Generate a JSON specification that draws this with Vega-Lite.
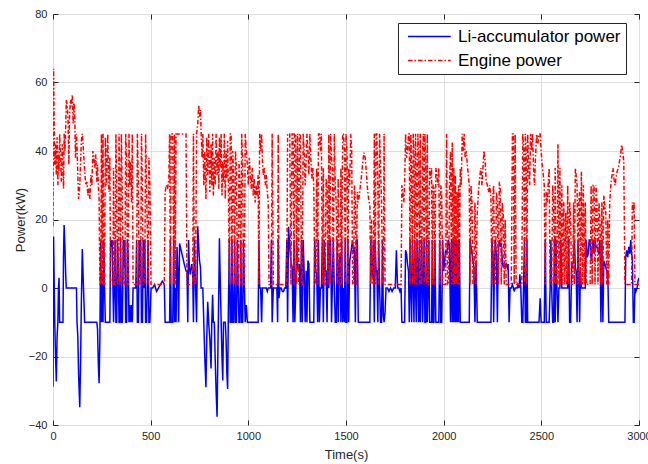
{
"$schema":"https://vega.github.io/schema/vega-lite/v6.json",
"width":586,"height":411,
"autosize":{"type":"none"},
"padding":{"left":53,"top":14,"right":9,"bottom":39},
"background":"white",
"config":{"font":"Liberation Sans","view":{"stroke":"#262626","strokeWidth":1},
"axis":{"labelFont":"Liberation Sans","titleFont":"Liberation Sans","labelFontSize":11,"titleFontSize":13,"labelColor":"#262626","titleColor":"#262626","titleFontWeight":"normal","domain":false,"tickColor":"#262626","gridColor":"#dedede","gridWidth":1,"labelFlush":false}},
"data":{"values":[
{"t":0,"b":-28.8,"e":18},{"t":3,"b":15,"e":64},{"t":6,"b":2,"e":48},{"t":9,"b":-10,"e":36},{"t":13,"b":-20,"e":42},{"t":17,"b":-27.3,"e":33},{"t":21,"b":-14,"e":44},{"t":25,"b":-10,"e":30},{"t":28,"b":0,"e":39},{"t":31,"b":3,"e":34},{"t":34,"b":-10,"e":45},{"t":39,"b":-10,"e":37},{"t":43,"b":-10,"e":31},{"t":47,"b":-10,"e":42},{"t":51,"b":-10,"e":35},{"t":54,"b":10,"e":29},{"t":57,"b":18.4,"e":45},{"t":61,"b":12,"e":40},{"t":65,"b":4,"e":47},{"t":68,"b":0,"e":55},{"t":73,"b":0,"e":53},{"t":77,"b":0,"e":49},{"t":81,"b":0,"e":36},{"t":85,"b":0,"e":51},{"t":90,"b":0,"e":55},{"t":94,"b":0,"e":53},{"t":99,"b":0,"e":56.5},{"t":103,"b":0,"e":48},{"t":107,"b":0,"e":54},{"t":111,"b":0,"e":52},{"t":115,"b":0,"e":38},{"t":120,"b":0,"e":45},{"t":123,"b":-10,"e":41},{"t":127,"b":-14,"e":33},{"t":131,"b":-25,"e":26},{"t":137,"b":-34.8,"e":30},{"t":141,"b":-22,"e":36},{"t":145,"b":-5,"e":43},{"t":150,"b":11.4,"e":45},{"t":156,"b":0,"e":40},{"t":162,"b":-10,"e":34},{"t":168,"b":-10,"e":30},{"t":174,"b":-10,"e":31},{"t":179,"b":-10,"e":27},{"t":184,"b":-10,"e":29},{"t":189,"b":-10,"e":26},{"t":194,"b":-10,"e":33},{"t":199,"b":-10,"e":30},{"t":204,"b":-10,"e":40},{"t":209,"b":-10,"e":38},{"t":214,"b":-10,"e":35},{"t":219,"b":-10,"e":39},{"t":224,"b":-10,"e":31},{"t":228,"b":-12,"e":36},{"t":232,"b":-22,"e":30},{"t":236,"b":-27.8,"e":26},{"t":240,"b":-15,"e":1},
{"t":244,"b":14,"e":1},{"t":248,"b":-10,"e":45},{"t":252,"b":4.5,"e":1},{"t":256,"b":-10,"e":45},{"t":260,"b":14,"e":1},{"t":264,"b":0,"e":1},{"t":268,"b":-10,"e":44},{"t":274,"b":-10,"e":30},{"t":280,"b":-10,"e":45},{"t":286,"b":-10,"e":28},{"t":291,"b":-10,"e":38},{"t":295,"b":14,"e":1},{"t":299,"b":12,"e":1},{"t":303,"b":14,"e":1},{"t":307,"b":0,"e":1},{"t":310,"b":-10,"e":35},{"t":314,"b":0,"e":1},{"t":318,"b":14,"e":1},{"t":322,"b":-10,"e":45},{"t":326,"b":-10,"e":30},{"t":330,"b":14,"e":1},{"t":334,"b":8,"e":1},{"t":338,"b":-10,"e":45},{"t":342,"b":-10,"e":33},{"t":346,"b":14,"e":1},{"t":350,"b":-10,"e":45},{"t":355,"b":-10,"e":26},{"t":360,"b":14,"e":1},{"t":364,"b":6,"e":1},{"t":368,"b":14,"e":1},{"t":372,"b":-10,"e":45},{"t":377,"b":-10,"e":38},{"t":381,"b":14,"e":1},{"t":385,"b":10,"e":1},{"t":389,"b":-10,"e":45},{"t":393,"b":-5,"e":30},{"t":397,"b":-10,"e":37},{"t":402,"b":-5,"e":25},{"t":406,"b":-10,"e":45},{"t":410,"b":0,"e":1},{"t":415,"b":0,"e":1},{"t":420,"b":0,"e":1},{"t":424,"b":0,"e":1},{"t":428,"b":14,"e":1},{"t":432,"b":-10,"e":45},{"t":437,"b":-10,"e":31},{"t":441,"b":14,"e":1},{"t":445,"b":3,"e":1},{"t":449,"b":14,"e":1},{"t":453,"b":-10,"e":45},{"t":458,"b":-10,"e":28},{"t":462,"b":14,"e":1},{"t":466,"b":0,"e":1},{"t":470,"b":14,"e":1},{"t":474,"b":-10,"e":45},{"t":479,"b":-10,"e":30},{"t":487,"b":14,"e":1},
{"t":491,"b":-10,"e":38},{"t":496,"b":-10,"e":30},{"t":502,"b":0,"e":1},{"t":510,"b":0,"e":1},{"t":520,"b":1,"e":1},{"t":530,"b":-1,"e":1},{"t":540,"b":0,"e":1},{"t":550,"b":1,"e":1},{"t":560,"b":2,"e":1},{"t":570,"b":1,"e":1},{"t":574,"b":-10,"e":28},{"t":580,"b":-10,"e":30},{"t":587,"b":-10,"e":29},{"t":593,"b":-10,"e":32},{"t":597,"b":-10,"e":45},{"t":601,"b":14,"e":1},{"t":605,"b":-10,"e":45},{"t":613,"b":-10,"e":45},{"t":618,"b":14,"e":1},{"t":622,"b":-10,"e":45},{"t":626,"b":0,"e":1},{"t":630,"b":-10,"e":45},{"t":635,"b":12,"e":45},{"t":639,"b":5,"e":45},{"t":643,"b":-10,"e":45},{"t":648,"b":13,"e":45},{"t":656,"b":11,"e":45},{"t":664,"b":9,"e":45},{"t":672,"b":7,"e":45},{"t":681,"b":5,"e":45},{"t":686,"b":5,"e":1},{"t":690,"b":-10,"e":1},{"t":694,"b":14,"e":1},{"t":698,"b":6,"e":1},{"t":703,"b":4,"e":1},{"t":710,"b":7,"e":1},{"t":715,"b":5,"e":1},{"t":719,"b":-10,"e":45},{"t":724,"b":14,"e":1},{"t":730,"b":0,"e":1},{"t":735,"b":-10,"e":45},{"t":741,"b":18,"e":48},{"t":746,"b":12,"e":53.4},{"t":750,"b":8,"e":50},{"t":755,"b":6,"e":52},{"t":758,"b":0,"e":46},{"t":763,"b":0,"e":38},{"t":767,"b":0,"e":45},{"t":772,"b":-10,"e":30},{"t":777,"b":-20,"e":40},{"t":783,"b":-29,"e":26},{"t":787,"b":-15,"e":44},{"t":792,"b":-4,"e":33},{"t":797,"b":-10,"e":45},{"t":803,"b":-15,"e":28},{"t":809,"b":-23.5,"e":42},{"t":813,"b":-10,"e":30},{"t":817,"b":-2,"e":45},{"t":821,"b":-10,"e":27},{"t":826,"b":-10,"e":38},{"t":830,"b":-20,"e":30},{"t":835,"b":-30,"e":45},{"t":840,"b":-37.6,"e":33},{"t":845,"b":-15,"e":40},{"t":849,"b":0,"e":29},{"t":852,"b":14.5,"e":44},{"t":857,"b":0,"e":35},{"t":861,"b":-10,"e":45},{"t":865,"b":-20,"e":27},{"t":869,"b":-27,"e":37},{"t":873,"b":-10,"e":31},{"t":877,"b":-10,"e":45},{"t":882,"b":-10,"e":26},{"t":886,"b":-15,"e":40},{"t":890,"b":-25,"e":32},{"t":894,"b":-29.5,"e":43},{"t":898,"b":-5,"e":28},
{"t":903,"b":14,"e":1},{"t":907,"b":-10,"e":45},{"t":912,"b":-10,"e":45},{"t":916,"b":14,"e":1},{"t":920,"b":-10,"e":40},{"t":925,"b":-10,"e":33},{"t":930,"b":14,"e":1},{"t":934,"b":-10,"e":40},{"t":939,"b":-10,"e":35},{"t":944,"b":14,"e":1},{"t":948,"b":0,"e":1},{"t":952,"b":-10,"e":37},{"t":957,"b":-10,"e":30},{"t":961,"b":14,"e":1},{"t":966,"b":-10,"e":45},{"t":971,"b":-10,"e":36},{"t":975,"b":14,"e":1},{"t":980,"b":0,"e":1},{"t":984,"b":-10,"e":45},{"t":990,"b":-5,"e":40},{"t":995,"b":-10,"e":36},{"t":1000,"b":-10,"e":30},{"t":1005,"b":-10,"e":38},{"t":1010,"b":-10,"e":33},{"t":1015,"b":-10,"e":29},{"t":1020,"b":-10,"e":35},{"t":1025,"b":-10,"e":27},{"t":1030,"b":-10,"e":32},{"t":1035,"b":-10,"e":25},{"t":1040,"b":-10,"e":30},{"t":1045,"b":-10,"e":27},{"t":1050,"b":-10,"e":33},{"t":1054,"b":14,"e":1},{"t":1058,"b":0,"e":45},{"t":1063,"b":0,"e":40},{"t":1068,"b":-10,"e":45},{"t":1072,"b":0,"e":37},{"t":1077,"b":0,"e":33},{"t":1082,"b":0,"e":35},{"t":1087,"b":0,"e":30},{"t":1092,"b":0,"e":33},{"t":1097,"b":-1,"e":28},{"t":1102,"b":0,"e":25},{"t":1106,"b":0,"e":1},{"t":1114,"b":0,"e":1},{"t":1118,"b":14,"e":1},{"t":1122,"b":-10,"e":45},{"t":1128,"b":0,"e":1},{"t":1134,"b":0,"e":1},{"t":1140,"b":0,"e":1},{"t":1146,"b":0,"e":1},{"t":1150,"b":-10,"e":1},{"t":1153,"b":14,"e":45},{"t":1157,"b":-3,"e":1},{"t":1162,"b":0,"e":1},{"t":1168,"b":0,"e":1},{"t":1174,"b":-1,"e":1},{"t":1180,"b":-1,"e":1},{"t":1186,"b":0,"e":1},{"t":1192,"b":0,"e":1},{"t":1197,"b":14,"e":1},
{"t":1201,"b":-10,"e":45},{"t":1206,"b":17.9,"e":45},{"t":1212,"b":12,"e":45},{"t":1218,"b":8,"e":1},{"t":1224,"b":6,"e":45},{"t":1229,"b":-10,"e":45},{"t":1234,"b":14,"e":1},{"t":1238,"b":-10,"e":45},{"t":1243,"b":0,"e":45},{"t":1247,"b":14,"e":1},{"t":1252,"b":6,"e":45},{"t":1257,"b":5,"e":1},{"t":1262,"b":7,"e":45},{"t":1267,"b":-10,"e":45},{"t":1272,"b":14,"e":1},{"t":1276,"b":-10,"e":1},{"t":1281,"b":14,"e":45},{"t":1286,"b":4,"e":40},{"t":1291,"b":-10,"e":30},{"t":1296,"b":5,"e":37},{"t":1300,"b":-10,"e":45},{"t":1305,"b":8,"e":40},{"t":1310,"b":7,"e":33},{"t":1315,"b":-10,"e":45},{"t":1320,"b":-10,"e":38},{"t":1325,"b":-10,"e":32},{"t":1330,"b":-10,"e":35},{"t":1335,"b":-10,"e":30},{"t":1340,"b":14,"e":1},{"t":1345,"b":5,"e":1},{"t":1350,"b":4,"e":35},{"t":1355,"b":-10,"e":1},{"t":1359,"b":14,"e":45},{"t":1364,"b":-10,"e":45},{"t":1369,"b":0,"e":40},{"t":1374,"b":0,"e":45},{"t":1379,"b":14,"e":1},{"t":1384,"b":-10,"e":35},{"t":1389,"b":14,"e":1},{"t":1394,"b":5,"e":1},{"t":1398,"b":5,"e":32},{"t":1403,"b":-10,"e":30},{"t":1408,"b":14,"e":1},{"t":1412,"b":0,"e":45},{"t":1417,"b":14,"e":1},{"t":1421,"b":14,"e":45},{"t":1426,"b":-10,"e":38},{"t":1430,"b":0,"e":35},{"t":1435,"b":14,"e":1},{"t":1440,"b":0,"e":45},{"t":1445,"b":-10,"e":30},{"t":1450,"b":-10,"e":25},{"t":1455,"b":14,"e":1},{"t":1460,"b":-10,"e":32},{"t":1465,"b":8,"e":1},{"t":1470,"b":10,"e":1},{"t":1474,"b":-10,"e":35},{"t":1478,"b":14,"e":1},{"t":1483,"b":-10,"e":45},{"t":1487,"b":0,"e":45},{"t":1492,"b":-10,"e":40},{"t":1496,"b":14,"e":1},{"t":1500,"b":-10,"e":45},{"t":1505,"b":-10,"e":40},{"t":1510,"b":14,"e":1},{"t":1514,"b":-10,"e":35},{"t":1519,"b":8,"e":30},{"t":1524,"b":10,"e":45},{"t":1529,"b":12,"e":40},{"t":1534,"b":14,"e":1},{"t":1539,"b":10,"e":1},{"t":1543,"b":12,"e":30},{"t":1548,"b":-10,"e":25},{"t":1553,"b":14,"e":1},{"t":1558,"b":14,"e":28},{"t":1563,"b":-10,"e":25},{"t":1568,"b":-10,"e":27},{"t":1574,"b":-10,"e":30},{"t":1580,"b":-10,"e":33},{"t":1586,"b":-10,"e":37},{"t":1592,"b":-10,"e":39.5},{"t":1598,"b":-10,"e":38},{"t":1604,"b":-10,"e":34},{"t":1610,"b":-10,"e":29},{"t":1616,"b":-10,"e":26},{"t":1622,"b":-10,"e":24},{"t":1627,"b":14,"e":1},{"t":1631,"b":5,"e":20},{"t":1636,"b":3,"e":1},{"t":1640,"b":14,"e":1},{"t":1645,"b":-10,"e":45},{"t":1649,"b":14,"e":1},{"t":1654,"b":5,"e":45},{"t":1658,"b":5,"e":45},{"t":1663,"b":-10,"e":30},{"t":1667,"b":14,"e":1},{"t":1672,"b":0,"e":45},{"t":1677,"b":-10,"e":35},{"t":1682,"b":-10,"e":25},{"t":1687,"b":14,"e":1},{"t":1691,"b":-8,"e":1},{"t":1695,"b":-10,"e":45},{"t":1700,"b":-7,"e":1},{"t":1705,"b":0,"e":1},{"t":1712,"b":0,"e":1},{"t":1720,"b":-1,"e":1},{"t":1728,"b":0,"e":1},{"t":1736,"b":-1,"e":1},{"t":1744,"b":0,"e":1},{"t":1752,"b":0,"e":1},{"t":1758,"b":11,"e":1},{"t":1764,"b":0,"e":1},{"t":1770,"b":0,"e":1},{"t":1776,"b":-1,"e":1},{"t":1782,"b":0,"e":1},{"t":1786,"b":-10,"e":30},{"t":1791,"b":-10,"e":28},{"t":1796,"b":-10,"e":25},{"t":1800,"b":-10,"e":30},{"t":1805,"b":11,"e":45},{"t":1810,"b":10,"e":38},{"t":1815,"b":7,"e":40},{"t":1820,"b":5,"e":45},{"t":1824,"b":-10,"e":45},{"t":1828,"b":14,"e":1},{"t":1832,"b":0,"e":45},{"t":1836,"b":-10,"e":35},{"t":1840,"b":14,"e":1},{"t":1844,"b":3,"e":45},{"t":1848,"b":-10,"e":40},{"t":1852,"b":14,"e":1},{"t":1856,"b":0,"e":45},{"t":1860,"b":-10,"e":33},{"t":1864,"b":14,"e":1},{"t":1868,"b":5,"e":45},{"t":1872,"b":-10,"e":38},{"t":1876,"b":14,"e":1},{"t":1880,"b":-10,"e":45},{"t":1884,"b":2,"e":1},{"t":1888,"b":14,"e":1},{"t":1892,"b":-10,"e":40},{"t":1896,"b":0,"e":45},{"t":1900,"b":14,"e":1},{"t":1904,"b":-10,"e":45},{"t":1908,"b":-10,"e":35},{"t":1912,"b":14,"e":1},{"t":1916,"b":-10,"e":45},{"t":1920,"b":0,"e":1},{"t":1924,"b":14,"e":1},{"t":1928,"b":-10,"e":35},{"t":1933,"b":-10,"e":32},{"t":1938,"b":-10,"e":35},{"t":1942,"b":14,"e":1},{"t":1946,"b":-10,"e":30},
{"t":1950,"b":-10,"e":30},{"t":1955,"b":14,"e":1},{"t":1960,"b":-10,"e":35},{"t":1965,"b":-10,"e":33},{"t":1970,"b":-10,"e":30},{"t":1975,"b":-10,"e":35},{"t":1980,"b":14,"e":1},{"t":1985,"b":-10,"e":30},{"t":1990,"b":-10,"e":28},{"t":1995,"b":14,"e":1},{"t":2000,"b":5,"e":1},{"t":2005,"b":8,"e":1},{"t":2010,"b":11,"e":1},{"t":2015,"b":10,"e":45},{"t":2020,"b":12,"e":1},{"t":2025,"b":14,"e":1},{"t":2030,"b":12,"e":30},{"t":2035,"b":-10,"e":40},{"t":2040,"b":14,"e":1},{"t":2044,"b":-10,"e":42.5},{"t":2048,"b":14,"e":1},{"t":2052,"b":-10,"e":35},{"t":2056,"b":14,"e":1},{"t":2060,"b":-10,"e":33},{"t":2064,"b":14,"e":1},{"t":2068,"b":-10,"e":28},{"t":2072,"b":14,"e":1},{"t":2076,"b":-10,"e":30},{"t":2080,"b":14,"e":1},{"t":2085,"b":-10,"e":35},{"t":2090,"b":-10,"e":30},{"t":2095,"b":-10,"e":45},{"t":2100,"b":-10,"e":40},{"t":2105,"b":-10,"e":45},{"t":2110,"b":-10,"e":38},{"t":2116,"b":-10,"e":40},{"t":2121,"b":-10,"e":36},{"t":2126,"b":-10,"e":33},{"t":2131,"b":-10,"e":30},{"t":2135,"b":14,"e":1},{"t":2140,"b":12,"e":30},{"t":2145,"b":10,"e":25},{"t":2150,"b":8,"e":1},{"t":2155,"b":6,"e":1},{"t":2160,"b":-10,"e":25},{"t":2166,"b":8,"e":1},{"t":2172,"b":-10,"e":22},{"t":2178,"b":-10,"e":28},{"t":2184,"b":-10,"e":32},{"t":2190,"b":-10,"e":35},{"t":2196,"b":-10,"e":30},{"t":2201,"b":-10,"e":35},{"t":2206,"b":-10,"e":40},{"t":2212,"b":-10,"e":37},{"t":2218,"b":-10,"e":31},{"t":2224,"b":-10,"e":30},{"t":2230,"b":-10,"e":28},{"t":2236,"b":-10,"e":30},{"t":2242,"b":-10,"e":26},{"t":2247,"b":14,"e":1},{"t":2252,"b":10,"e":27},{"t":2256,"b":-10,"e":30},{"t":2261,"b":10,"e":1},{"t":2265,"b":14,"e":1},{"t":2270,"b":9,"e":28},{"t":2275,"b":-10,"e":25},{"t":2280,"b":12,"e":1},{"t":2285,"b":14,"e":31},{"t":2290,"b":12,"e":29},{"t":2295,"b":13,"e":1},{"t":2300,"b":8,"e":25},{"t":2305,"b":6,"e":22},{"t":2310,"b":7,"e":1},{"t":2315,"b":6,"e":20},{"t":2320,"b":7,"e":1},{"t":2325,"b":6,"e":1},{"t":2330,"b":7,"e":1},{"t":2335,"b":-10,"e":1},{"t":2340,"b":0,"e":1},{"t":2346,"b":0,"e":1},{"t":2352,"b":1,"e":45},{"t":2357,"b":0,"e":45},{"t":2361,"b":-1,"e":1},{"t":2366,"b":0,"e":45},{"t":2371,"b":0,"e":1},{"t":2376,"b":0,"e":1},{"t":2380,"b":1,"e":1},{"t":2386,"b":0,"e":1},{"t":2390,"b":4,"e":1},{"t":2395,"b":0,"e":1},{"t":2400,"b":-10,"e":1},{"t":2405,"b":-10,"e":45},{"t":2410,"b":3,"e":40},{"t":2414,"b":14,"e":1},{"t":2418,"b":-10,"e":45},{"t":2422,"b":-10,"e":40},{"t":2426,"b":14,"e":1},{"t":2430,"b":-10,"e":45},{"t":2435,"b":-10,"e":35},{"t":2440,"b":-10,"e":30},{"t":2445,"b":-10,"e":45},{"t":2450,"b":-10,"e":40},{"t":2455,"b":-10,"e":45},{"t":2460,"b":-10,"e":35},{"t":2465,"b":-10,"e":30},{"t":2470,"b":-10,"e":38},{"t":2476,"b":-10,"e":45},{"t":2482,"b":-10,"e":42},{"t":2488,"b":-10,"e":45},{"t":2494,"b":-3,"e":45},{"t":2499,"b":-10,"e":40},{"t":2504,"b":-10,"e":36},{"t":2510,"b":-10,"e":33},{"t":2515,"b":-10,"e":30},{"t":2520,"b":14,"e":1},{"t":2525,"b":-10,"e":28},{"t":2530,"b":-10,"e":25},{"t":2535,"b":-10,"e":30},{"t":2540,"b":-10,"e":35},{"t":2545,"b":0,"e":1},{"t":2549,"b":14,"e":1},{"t":2553,"b":0,"e":1},{"t":2558,"b":-10,"e":30},{"t":2563,"b":-10,"e":25},{"t":2567,"b":14,"e":1},{"t":2571,"b":-10,"e":35},{"t":2575,"b":14,"e":1},{"t":2580,"b":0,"e":1},{"t":2585,"b":-10,"e":42},{"t":2590,"b":0,"e":1},{"t":2595,"b":0,"e":35},{"t":2600,"b":14,"e":1},{"t":2605,"b":0,"e":30},{"t":2610,"b":0,"e":1},{"t":2615,"b":0,"e":25},{"t":2620,"b":0,"e":1},{"t":2625,"b":0,"e":22},{"t":2630,"b":0,"e":1},{"t":2635,"b":0,"e":30},{"t":2640,"b":14,"e":1},{"t":2645,"b":-10,"e":25},{"t":2650,"b":-10,"e":20},{"t":2655,"b":6,"e":1},{"t":2660,"b":7,"e":1},{"t":2665,"b":8,"e":25},{"t":2669,"b":14,"e":1},{"t":2674,"b":6,"e":35},{"t":2678,"b":5,"e":33},{"t":2683,"b":-10,"e":30},{"t":2688,"b":14,"e":1},{"t":2692,"b":5,"e":25},{"t":2696,"b":-10,"e":28},{"t":2700,"b":5,"e":1},{"t":2705,"b":0,"e":34},{"t":2710,"b":0,"e":1},{"t":2715,"b":0,"e":30},{"t":2720,"b":0,"e":1},{"t":2725,"b":0,"e":25},{"t":2730,"b":14,"e":1},{"t":2735,"b":9,"e":1},{"t":2740,"b":10,"e":1},{"t":2745,"b":14,"e":1},
{"t":2750,"b":14,"e":1},{"t":2755,"b":8,"e":30},{"t":2760,"b":10,"e":1},{"t":2765,"b":14,"e":30},{"t":2770,"b":10,"e":30},{"t":2775,"b":14,"e":1},{"t":2780,"b":12,"e":30},{"t":2785,"b":12,"e":25},{"t":2790,"b":11,"e":1},{"t":2795,"b":10,"e":25},{"t":2800,"b":14,"e":20},{"t":2805,"b":-10,"e":1},{"t":2810,"b":14,"e":25},{"t":2815,"b":-10,"e":1},{"t":2820,"b":8,"e":27},{"t":2825,"b":7,"e":24},{"t":2830,"b":6,"e":22},{"t":2835,"b":5,"e":1},{"t":2840,"b":5,"e":20},{"t":2845,"b":-10,"e":1},{"t":2850,"b":-10,"e":25},{"t":2856,"b":-10,"e":30},{"t":2862,"b":-10,"e":33},{"t":2867,"b":-10,"e":35},{"t":2872,"b":-10,"e":32},{"t":2877,"b":-10,"e":30},{"t":2882,"b":-10,"e":32},{"t":2888,"b":-10,"e":34},{"t":2894,"b":-10,"e":35},{"t":2900,"b":-10,"e":37},{"t":2906,"b":-10,"e":39},{"t":2911,"b":-10,"e":41.8},{"t":2916,"b":-10,"e":40},{"t":2922,"b":-10,"e":37},{"t":2928,"b":-10,"e":1},{"t":2932,"b":9,"e":1},{"t":2937,"b":11,"e":1},{"t":2942,"b":9,"e":1},{"t":2948,"b":12,"e":1},{"t":2953,"b":10,"e":1},{"t":2958,"b":14,"e":1},{"t":2962,"b":10,"e":1},{"t":2966,"b":9,"e":25},{"t":2971,"b":-10,"e":22},{"t":2975,"b":-10,"e":25},{"t":2979,"b":0,"e":1},{"t":2984,"b":-1,"e":1},{"t":2990,"b":0,"e":1},{"t":2995,"b":2,"e":1},{"t":3000,"b":3,"e":1}
]},
"transform":[{"fold":["b","e"],"as":["s","p"]}],
"layer":[
{"mark":{"type":"line","strokeWidth":1.5,"clip":true},
"encoding":{
"x":{"field":"t","type":"quantitative","scale":{"domain":[0,3000],"nice":false},"axis":{"values":[0,500,1000,1500,2000,2500,3000],"format":"d","title":"Time(s)","tickSize":-5,"labelPadding":10,"titlePadding":7}},
"y":{"field":"p","type":"quantitative","scale":{"domain":[-40,80],"nice":false},"axis":{"values":[-40,-20,0,20,40,60,80],"format":"d","title":"Power(kW)","tickSize":-5,"labelPadding":11,"titlePadding":1}},
"color":{"field":"s","type":"nominal","scale":{"domain":["b","e"],"range":["#0000ff","#ff0000"]},
"legend":{"orient":"none","legendX":345,"legendY":9,"title":null,"labelExpr":"datum.value == 'b' ? 'Li-accumulator power' : 'Engine power'","labelFontSize":17,"labelFont":"Liberation Sans","labelColor":"#000000","labelLimit":400,"symbolType":"M-0.5,0H5.6","symbolSize":196,"symbolStrokeWidth":1.5,"strokeColor":"#262626","fillColor":"white","padding":5,"rowPadding":6,"labelOffset":38}},
"strokeDash":{"field":"s","type":"nominal","scale":{"domain":["b","e"],"range":[[1,0],[4.5,2,1.5,2]]},"legend":null}
}},
{"mark":{"type":"point","opacity":0},
"encoding":{
"x":{"field":"t","type":"quantitative","axis":{"orient":"top","values":[0,500,1000,1500,2000,2500,3000],"labels":false,"grid":false,"title":null,"tickSize":-5}},
"y":{"field":"p","type":"quantitative","axis":{"orient":"right","values":[-40,-20,0,20,40,60,80],"labels":false,"grid":false,"title":null,"tickSize":-5}}
}}
],
"resolve":{"axis":{"x":"independent","y":"independent"}}
}
